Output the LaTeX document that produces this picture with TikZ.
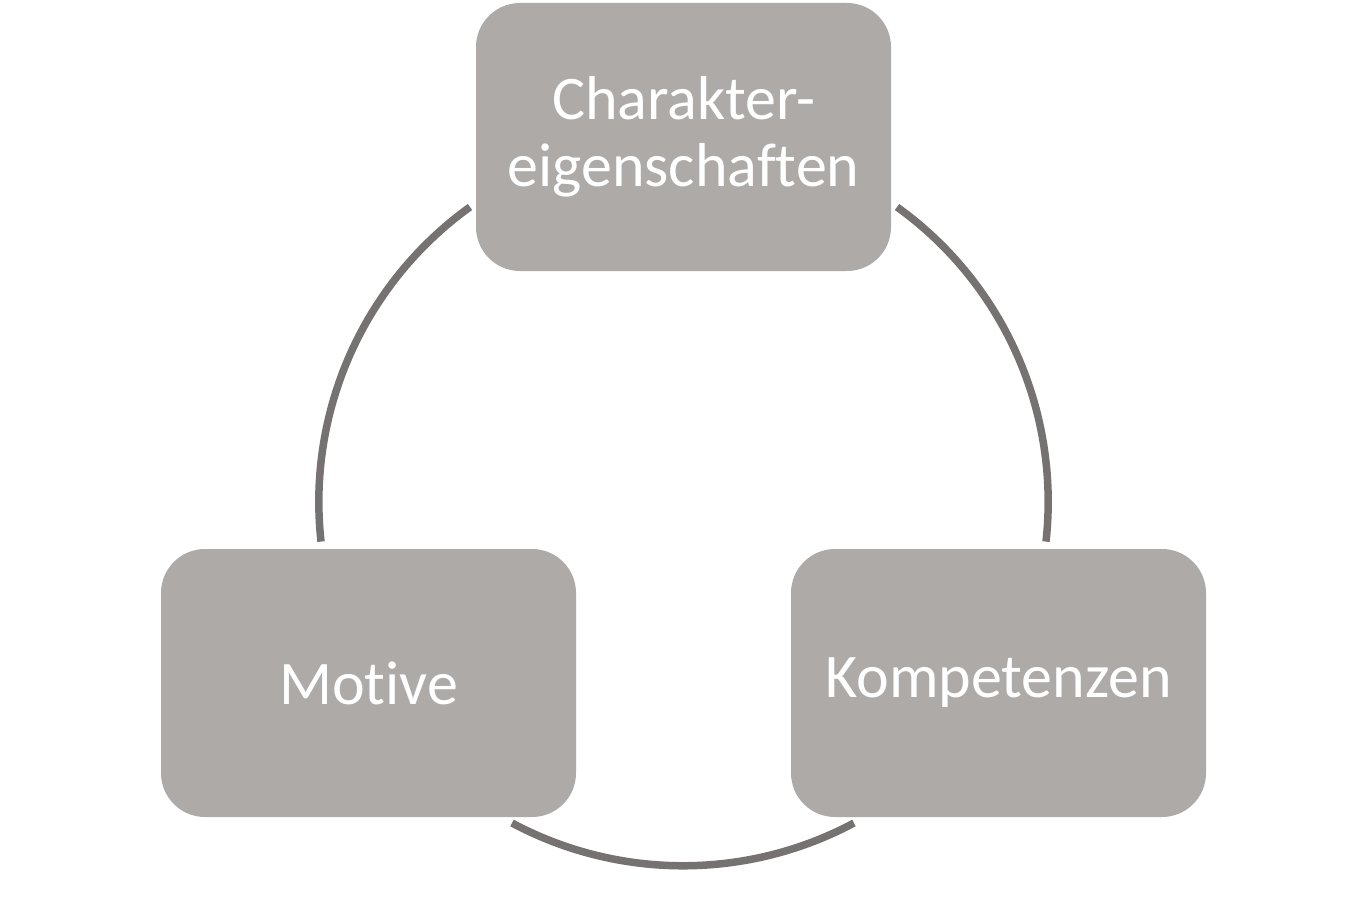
\documentclass[tikz,border=0pt]{standalone}
\usepackage{fontspec}
\setmainfont{Carlito}[Ligatures={NoCommon,NoRare}]
\usetikzlibrary{calc}
\definecolor{boxgray}{HTML}{AEAAA8}
\definecolor{ringgray}{HTML}{767271}
\tikzset{box/.style={rounded corners=44pt,fill=boxgray,text=white,minimum width=415pt,minimum height=268pt,inner sep=0pt,align=center,font=\fontsize{62}{67}\selectfont}}
\tikzset{ring/.style={ringgray,line width=7.5pt}}

\begin{document}
\begin{tikzpicture}[x=1pt,y=-1pt]
                    \useasboundingbox (0,0) rectangle (1366,915);
                    \coordinate (M) at (683,503);

                    \node[box] (char) at (683.5,137) {Charakter-\\eigenschaften};
                    \node[box] (mot) at (368.5,683) {Motive};
                    \node[box] (komp) at (998.5,683) {Kompetenzen};

                    \draw[ring] ($(M)+(-213,-296)$) arc[start angle=125.7, end angle=186.3, radius=363pt];
                    \draw[ring] ($(M)+(214,-296)$) arc[start angle=54.3, end angle=-6.3, radius=363pt];
                    \draw[ring] ($(M)+(-171,320)$) arc[start angle=241.9, end angle=298.1, radius=363pt];
                \end{tikzpicture}
\end{document}
